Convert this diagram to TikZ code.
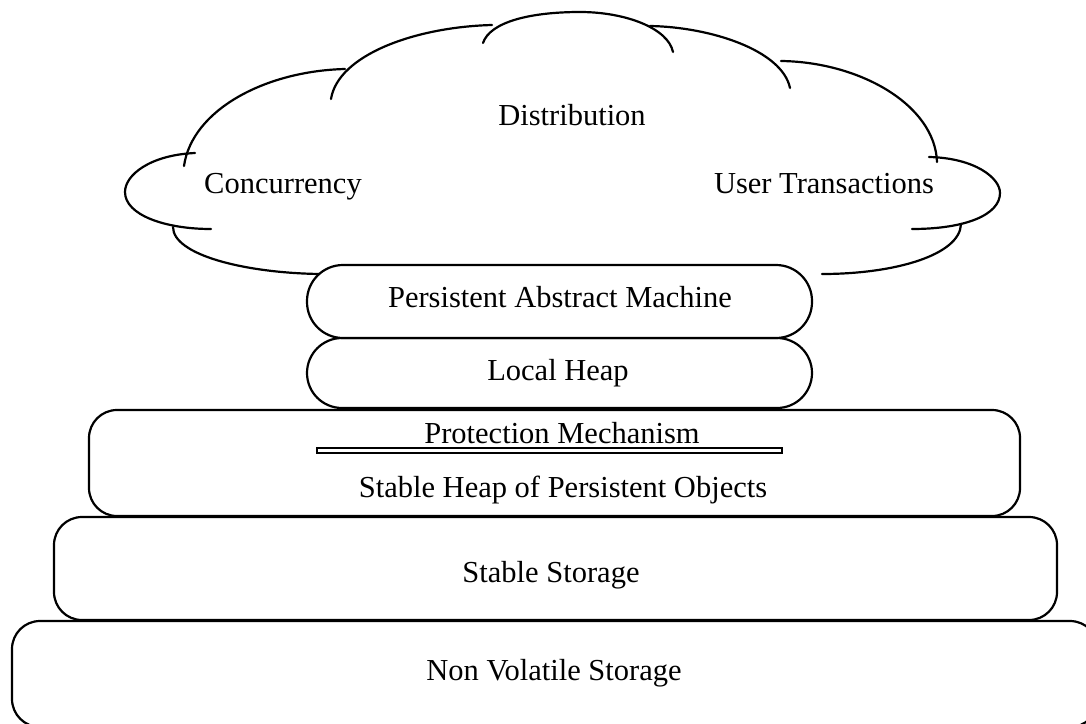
\documentclass[tikz,border=0pt]{standalone}
\usepackage{fontspec}
\setmainfont{Liberation Serif}
\begin{document}
\begin{tikzpicture}[x=1pt,y=-1pt,
  line/.style={line width=2.2pt,line cap=round},
  layer/.style={draw,line width=2.2pt,fill=white,rectangle,inner sep=0pt},
  lbl/.style={anchor=base,inner sep=0pt,font=\fontsize{30.5}{36}\selectfont}]
\useasboundingbox (0,0) rectangle (1086,723);
% cloud
\draw[line] (195,153) .. controls (150,155) and (125,175) .. (125,192) .. controls (125,215) and (165,229) .. (211,229);
\draw[line] (184,166) .. controls (192,110) and (265,71) .. (345,69);
\draw[line] (331,99) .. controls (338,55) and (415,27) .. (492,25);
\draw[line] (483,43) .. controls (490,22) and (530,12) .. (580,12) .. controls (625,12) and (668,28) .. (673,52);
\draw[line] (650,26) .. controls (710,27) and (782,50) .. (790,88);
\draw[line] (781,61) .. controls (860,62) and (935,105) .. (937,162);
\draw[line] (929,157) .. controls (975,158) and (1000,178) .. (1000,193) .. controls (1000,215) and (965,229) .. (912,229);
\draw[line] (961,224) .. controls (960,255) and (895,274) .. (822,274);
\draw[line] (173,227) .. controls (173,255) and (245,273) .. (320,274);
\node[lbl] (dist) at (572,125) {Distribution};
\node[lbl] (conc) at (283,193) {Concurrency};
\node[lbl] (user) at (824,193) {User Transactions};
% layers
\node[layer,rounded corners=28pt,minimum width=1086pt,minimum height=106pt] (nv) at (555,674) {};
\node[layer,rounded corners=28pt,minimum width=1003pt,minimum height=103pt] (ss) at (555.5,568.5) {};
\node[layer,rounded corners=28pt,minimum width=931pt,minimum height=106pt] (sh) at (554.5,463) {};
\node[layer,rounded corners=35pt,minimum width=505pt,minimum height=70pt] (lh) at (559.5,373) {};
\node[layer,rounded corners=36pt,minimum width=505pt,minimum height=73pt] (pam) at (559.5,301.5) {};
\node[draw,line width=1.6pt,fill=white,rectangle,inner sep=0pt,minimum width=465pt,minimum height=5.5pt] (bar) at (549.5,450.5) {};
\node[lbl] (tpam) at (560,307) {Persistent Abstract Machine};
\node[lbl] (tlh) at (558,380) {Local Heap};
\node[lbl] (tpm) at (562,443) {Protection Mechanism};
\node[lbl] (tsh) at (563,497) {Stable Heap of Persistent Objects};
\node[lbl] (tss) at (551,582) {Stable Storage};
\node[lbl] (tnv) at (554,680) {Non Volatile Storage};
\end{tikzpicture}
\end{document}
